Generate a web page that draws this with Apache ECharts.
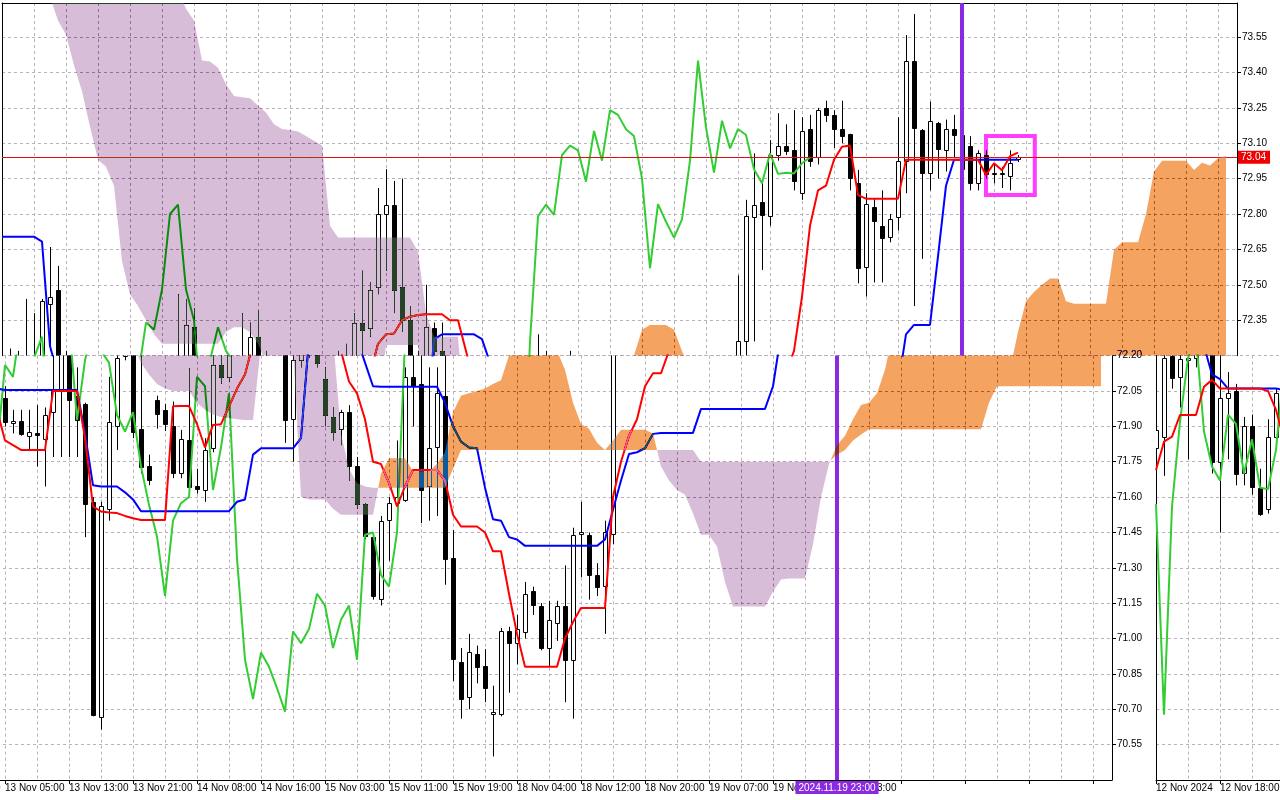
<!DOCTYPE html>
<html><head><meta charset="utf-8">
<script src="https://cdn.jsdelivr.net/npm/echarts@6/dist/echarts.min.js"></script>
<style>html,body{margin:0;padding:0;background:#fff;}#c{width:1280px;height:800px;}</style>
</head><body><div id="c"></div>
<script>
// ---- data ----
const tickLabels = ['12 Nov 2024','12 Nov 18:00','13 Nov 05:00','13 Nov 13:00','13 Nov 21:00','14 Nov 08:00','14 Nov 16:00','15 Nov 03:00','15 Nov 11:00','15 Nov 19:00','18 Nov 04:00','18 Nov 12:00','18 Nov 20:00','19 Nov 07:00','19 Nov 15:00','19 Nov 23:00'];

const candleOpen = [71.81,71.855,72.20,72.11,72.18,72.19,72.42,72.48,71.75,72.02,72.05,71.70,71.90,71.64,71.55,71.855,72.02,71.913,71.924,71.86,71.87,71.85,71.96,72.05,72.32,72.03,71.995,71.58,70.663,71.55,71.90,72.20,72.28,71.89,71.73,72.01,71.97,71.90,71.70,71.84,71.645,71.63,71.81,72.16,72.11,72.34,72.32,72.49,72.80,72.84,72.49,72.35,71.93,72.18,72.317,72.22,72.10,71.94,71.89,71.96,71.73,71.57,71.43,71.17,71.50,71.575,71.59,72.11,72.08,71.65,71.81,72.03,71.34,70.90,70.75,70.935,70.885,70.68,70.68,71.03,70.98,71.03,71.20,71.14,70.96,71.07,71.14,70.91,71.44,71.44,71.27,71.22,71.44,72.26,72.79,72.852,72.79,73.05,73.09,73.07,72.89,73.16,73.04,73.25,73.22,73.16,73.137,72.93,72.577,72.828,72.75,72.70,72.79,73.026,73.45,73.156,72.975,73.187,73.07,73.159,73.135,73.088,72.93,73.05,72.97,72.97,72.961,73.03];
const candleHigh = [71.92,72.23,72.22,72.44,72.38,72.44,72.66,72.58,72.22,72.13,72.08,71.94,71.95,71.72,71.93,72.06,72.07,71.97,71.97,71.97,71.99,71.98,72.46,72.44,72.40,72.15,72.00,71.60,71.58,72.11,72.38,72.34,72.39,72.22,71.78,72.03,71.995,72.005,71.885,72.146,71.72,71.85,72.22,72.25,72.38,72.56,72.51,72.91,72.99,72.94,72.95,72.41,72.22,72.50,72.34,72.34,72.15,71.98,71.97,71.99,71.77,71.575,71.44,71.52,71.60,71.84,72.15,72.29,72.22,72.15,72.15,72.22,71.46,70.96,71.02,70.97,70.955,70.80,71.045,71.05,71.10,71.24,71.22,71.15,71.16,71.16,71.31,71.47,71.58,71.45,71.32,71.50,72.54,72.86,73.057,72.93,73.113,73.227,73.18,73.24,73.21,73.22,73.25,73.28,73.24,73.28,73.14,72.987,72.888,72.866,72.90,72.80,73.21,73.558,73.647,73.16,73.276,73.19,73.20,73.22,73.17,73.13,73.07,73.07,73.015,73.00,73.07,73.05];
const candleLow = [71.78,71.69,72.06,71.98,71.76,72.15,72.22,71.70,71.45,71.76,71.65,71.65,71.61,71.52,71.53,71.83,71.90,71.87,71.86,71.80,71.73,71.645,71.77,71.77,71.77,71.77,71.43,70.67,70.614,71.50,71.80,72.18,71.85,71.70,71.65,71.89,71.88,71.68,71.68,71.62,71.615,71.58,71.79,72.08,72.09,72.20,72.28,72.46,72.56,72.38,72.30,71.83,71.75,72.15,72.19,72.15,71.90,71.84,71.82,71.67,71.55,71.42,71.165,71.14,71.33,71.55,71.58,71.90,71.49,71.50,71.52,71.228,70.82,70.66,70.70,70.81,70.73,70.50,70.67,70.77,70.89,71.00,71.10,70.95,70.88,70.99,70.73,70.66,71.26,71.165,71.18,71.02,71.40,72.20,72.26,72.563,72.75,73.026,73.05,72.90,72.86,73.00,73.01,73.19,73.08,73.10,72.90,72.506,72.45,72.51,72.51,72.68,72.73,72.888,72.41,72.61,72.90,72.95,72.98,73.04,72.96,72.90,72.90,72.95,72.93,72.91,72.90,73.02];
const candleClose = [71.885,72.19,72.105,72.185,72.19,72.43,72.45,71.75,72.02,72.04,71.70,71.90,71.64,71.53,71.855,72.04,71.92,71.923,71.868,71.877,71.86,71.95,72.05,72.33,72.01,71.93,71.57,70.677,71.56,71.92,72.19,72.28,71.878,71.73,71.67,71.95,71.91,71.70,71.845,71.64,71.633,71.80,72.16,72.11,72.34,72.31,72.48,72.80,72.84,72.48,72.35,71.927,72.18,72.32,72.22,72.17,71.948,71.878,71.96,71.73,71.567,71.433,71.181,71.50,71.574,71.60,72.11,72.07,71.63,71.81,72.04,71.34,70.91,70.743,70.941,70.88,70.79,70.69,71.03,70.98,71.04,71.19,71.14,70.96,71.08,71.14,70.91,71.44,71.45,71.27,71.22,71.45,72.26,72.79,72.84,72.796,73.05,73.09,73.07,72.937,73.152,73.026,73.24,73.22,73.159,73.13,72.95,72.57,72.842,72.767,72.70,72.777,73.026,73.45,73.167,72.975,73.195,73.078,73.16,73.135,72.99,72.93,73.057,72.97,72.975,72.972,73.015,73.04];

const tenkan = [71.715,71.835,71.856,71.948,71.948,71.948,72.068,72.097,72.06,72.06,72.06,72.06,72.06,72.06,72.05,71.97,71.84,71.82,71.80,71.80,71.80,71.80,72.05,72.05,72.05,72.05,71.85,71.56,71.539,71.535,71.532,71.52,71.51,71.503,71.503,71.503,71.503,71.985,71.986,71.986,71.91,71.81,71.906,71.909,71.984,72.06,72.12,72.25,72.29,72.294,72.35,72.365,72.372,72.375,72.375,72.375,72.35,72.35,72.22,72.09,72.04,71.93,71.75,71.74,71.66,71.56,71.645,71.715,71.715,71.715,71.715,71.67,71.525,71.475,71.475,71.475,71.45,71.37,71.37,71.19,71.02,70.88,70.88,70.88,70.88,70.88,71.00,71.07,71.13,71.13,71.13,71.13,71.60,71.75,71.86,71.93,72.07,72.125,72.125,72.22,72.45,72.75,72.90,72.92,73.03,73.085,73.09,72.88,72.865,72.865,72.865,72.865,72.865,73.03,73.03,73.03,73.03,73.03,73.03,73.03,73.03,73.03,73.03,72.965,73.015,72.985,73.045,73.06];
const kijun = [72.704,72.704,72.704,72.704,72.704,72.683,72.24,72.12,72.10,72.06,72.06,72.06,72.06,72.06,72.06,72.06,72.054,72.054,72.054,72.054,72.054,72.054,72.054,72.054,72.054,72.054,71.87,71.65,71.645,71.645,71.645,71.62,71.59,71.54,71.54,71.54,71.54,71.54,71.54,71.54,71.54,71.54,71.54,71.54,71.54,71.58,71.59,71.78,71.807,71.807,71.807,71.807,71.807,71.85,72.27,72.29,72.29,72.29,72.29,72.29,72.27,72.17,72.07,72.068,72.068,72.068,72.068,72.068,72.068,72.068,72.068,72.00,71.90,71.835,71.81,71.807,71.64,71.506,71.50,71.43,71.42,71.393,71.393,71.393,71.393,71.393,71.393,71.393,71.393,71.393,71.393,71.42,71.546,71.67,71.783,71.79,71.807,71.868,71.872,71.872,71.872,71.872,71.872,71.974,71.974,71.974,71.974,71.974,71.974,71.974,71.974,71.974,72.07,72.29,72.33,72.33,72.33,72.62,72.92,73.03,73.03,73.03,73.03,73.03,73.03,73.03,73.03,73.03];
const senkouA = [74.2,74.1,74.0,73.95,73.9,73.82,73.72,73.62,73.56,73.43,73.32,73.17,73.03,73.0,72.92,72.60,72.46,72.41,72.35,72.29,72.25,72.25,72.25,72.25,72.25,72.25,72.25,72.25,72.30,72.32,72.32,72.30,72.25,72.17,72.12,72.08,72.06,72.05,72.05,72.05,72.00,71.97,71.95,71.94,71.935,71.93,71.927,71.927,72.245,72.245,72.245,72.245,72.245,71.60,71.59,71.59,71.59,71.55,71.525,71.525,71.525,71.525,71.525,71.70,71.765,71.765,71.765,71.71,71.71,71.71,71.74,71.79,71.96,72.03,72.04,72.05,72.06,72.08,72.095,72.20,72.31,72.33,72.33,72.33,72.31,72.22,72.14,72.00,71.91,71.89,71.83,71.80,71.84,71.885,71.885,71.885,71.885,71.87,71.73,71.67,71.63,71.61,71.53,71.44,71.44,71.39,71.24,71.136,71.136,71.136,71.136,71.136,71.20,71.25,71.255,71.255,71.255,71.40,71.60,71.74,71.82,71.86,71.93,71.99,72.00,72.04,72.14,72.30,72.43,72.47,72.50,72.527,72.527,72.43,72.42,72.42,72.42,72.42,72.42,72.648,72.68,72.68,72.68,72.80,72.98,73.026,73.026,73.026,73.026,72.986,73.017,73.005,73.036,73.046];
const senkouB = [74.4,74.4,74.4,74.4,74.4,74.4,74.4,74.4,74.4,74.4,74.4,74.4,74.4,74.4,74.4,74.4,74.4,74.4,74.4,74.4,74.4,74.4,73.75,73.67,73.62,73.45,73.446,73.42,73.35,73.30,73.295,73.29,73.26,73.23,73.18,73.16,73.156,73.15,73.13,73.11,73.09,72.75,72.70,72.70,72.70,72.70,72.70,72.70,72.70,72.70,72.70,72.70,72.64,72.38,72.28,72.28,72.28,72.28,71.87,71.72,71.66,71.645,71.64,71.64,71.64,71.64,71.64,71.64,71.64,71.64,71.64,71.64,71.72,71.80,71.80,71.80,71.80,71.80,71.80,71.80,71.80,71.80,71.80,71.80,71.80,71.80,71.80,71.80,71.80,71.80,71.80,71.80,71.80,71.80,71.80,71.80,71.80,71.80,71.80,71.80,71.80,71.80,71.80,71.75,71.75,71.75,71.75,71.75,71.75,71.75,71.75,71.75,71.75,71.75,71.75,71.75,71.75,71.75,71.75,71.75,71.78,71.80,71.84,71.865,71.888,71.888,71.888,71.888,71.888,71.888,71.888,71.888,71.888,71.888,71.888,71.888,71.888,71.888,71.888,72.00,72.07,72.07,72.07,72.07,72.07,72.07,72.07,72.07,72.07,72.07,72.07,72.07,72.07,72.07];

const CHIKOU_SHIFT = 26;
const LAST_PRICE = 73.04;
const MARKER_BAR = 120;
const MARKER_LABEL = '2024.11.19 23:00';
const BOX = {x0: 123.0, x1: 129.1, yLow: 72.88, yHigh: 73.13};

// ---- styling ----
const FONT = 'Liberation Sans';
const ORANGE = '#f4a460', LAVENDER = '#d8bdd9';
// inverse colours: painted in "difference" mode they give ORANGE / LAVENDER on white (terminal-like XOR fill)
const ORANGE_INV = '#0b5b9f', LAVENDER_INV = '#274226';
const GRIDC = '#bdb0bd';
const X_MAX = 154.375;

const candleData = candleOpen.map((o, i) => [i, o, candleClose[i], candleLow[i], candleHigh[i]]);
const tenkanData = tenkan.map((v, i) => [i, v]);
const kijunData = kijun.map((v, i) => [i, v]);
const chikouData = [];
for (let i = 0; i + CHIKOU_SHIFT < candleClose.length; i++) chikouData.push([i, candleClose[i + CHIKOU_SHIFT]]);

// contiguous runs of the cloud with the same colour (split at the A/B crossings)
function buildCloudRuns() {
  const runs = [];
  let cur = null;
  for (let i = 0; i < senkouA.length; i++) {
    const a = senkouA[i], b = senkouB[i], d = a - b;
    if (i > 0) {
      const pa = senkouA[i - 1], pb = senkouB[i - 1], pd = pa - pb;
      if (pd * d < 0) {
        const t = pd / (pd - d);
        const ym = pa + t * (a - pa);
        cur.nodes.push([i - 1 + t, ym, ym]);
        cur = {up: d > 0, nodes: [[i - 1 + t, ym, ym]]};
        runs.push(cur);
      }
    }
    if (!cur) { cur = {up: d > 0, nodes: []}; runs.push(cur); }
    cur.nodes.push([i, a, b]);
  }
  return runs;
}
const cloudRuns = buildCloudRuns();

function renderCloud(params, api) {
  const children = cloudRuns.map(r => {
    const top = r.nodes.map(n => api.coord([n[0], n[1]]));
    const bot = r.nodes.slice().reverse().map(n => api.coord([n[0], n[2]]));
    return {type: 'polygon', name: r.up ? 'cloud-up' : 'cloud-down', shape: {points: top.concat(bot)},
      style: {fill: r.up ? ORANGE : LAVENDER}};
  });
  return {type: 'group', children};
}

function renderCandle(params, api) {
  const i = api.value(0), o = api.value(1), c = api.value(2), l = api.value(3), h = api.value(4);
  const pO = api.coord([i, o]), pC = api.coord([i, c]), pL = api.coord([i, l]), pH = api.coord([i, h]);
  const x = Math.round(pO[0]) + 0.5;
  const top = Math.min(pO[1], pC[1]), bot = Math.max(pO[1], pC[1]);
  const up = c >= o;
  return {type: 'group', children: [
    {type: 'line', shape: {x1: x, y1: pH[1], x2: x, y2: pL[1]}, style: {stroke: '#000', lineWidth: 1}},
    {type: 'rect', shape: {x: x - 2, y: Math.round(top) + 0.5, width: 4, height: Math.max(Math.round(bot - top), 1)},
      style: {fill: up ? '#ffffff' : '#000000', stroke: '#000', lineWidth: 1}}
  ]};
}

const GRID_LINE = {show: true, lineStyle: {color: GRIDC, type: [3, 3], width: 1}};
const fmtX = v => { const k = v / 8; return (Number.isInteger(k) && k < tickLabels.length) ? tickLabels[k] : ''; };

function xAxisFor(gridIndex, showLabels, position) {
  return {type: 'value', gridIndex, position, min: 0, max: X_MAX, interval: 8,
    axisLine: {show: true, onZero: false, lineStyle: {color: '#000', width: 1}},
    axisTick: {show: showLabels, length: 4, lineStyle: {color: '#000'}},
    axisLabel: {show: showLabels, formatter: fmtX, align: 'left', margin: 3, color: '#000',
      fontFamily: FONT, fontSize: 10, showMinLabel: true, showMaxLabel: false},
    splitLine: GRID_LINE,
    minorTick: {show: false, splitNumber: 2},
    minorSplitLine: GRID_LINE};
}
function yAxisFor(gridIndex, min, max, position, showLabels, showSplit, showMax) {
  return {type: 'value', gridIndex, position, min, max, interval: 0.15,
    axisLine: {show: true, onZero: false, lineStyle: {color: '#000', width: 1}},
    axisTick: {show: showLabels, length: 4, lineStyle: {color: '#000'}},
    axisLabel: {show: showLabels, formatter: v => v.toFixed(2), margin: 5, color: '#000',
      fontFamily: FONT, fontSize: 10, showMinLabel: false, showMaxLabel: !!showMax},
    splitLine: showSplit ? GRID_LINE : {show: false}};
}

const TOP_MIN = 72.20, TOP_MAX = 73.694;
const BOT_MIN = 70.40, BOT_MAX = 72.20;

function seriesFor(xi, yi, marks) {
  const list = [
    {type: 'custom', xAxisIndex: xi, yAxisIndex: yi, data: candleData, renderItem: renderCandle,
      encode: {x: 0, y: [1, 2, 3, 4]}, clip: true, z: 3, silent: true},
    {type: 'line', xAxisIndex: xi, yAxisIndex: yi, data: chikouData, showSymbol: false, z: 4, silent: true,
      lineStyle: {color: '#32cd32', width: 2}},
    {type: 'line', xAxisIndex: xi, yAxisIndex: yi, data: kijunData, showSymbol: false, z: 4, silent: true,
      lineStyle: {color: '#0000ff', width: 2}},
    {type: 'line', xAxisIndex: xi, yAxisIndex: yi, data: tenkanData, showSymbol: false, z: 4, silent: true,
      lineStyle: {color: '#ff0000', width: 2}},
    {type: 'custom', xAxisIndex: xi, yAxisIndex: yi, data: [[0, 72]], renderItem: renderCloud,
      encode: {x: 0, y: 1}, clip: true, z: 5, silent: true}
  ];
  if (marks) {
    const carrier = {type: 'line', xAxisIndex: xi, yAxisIndex: yi, data: tenkanData, showSymbol: false, z: 6, silent: true,
      lineStyle: {opacity: 0}};
    if (marks === 'top') {
      carrier.markLine = {silent: true, symbol: ['none', 'none'], animation: false, data: [
        {yAxis: LAST_PRICE, lineStyle: {color: '#dd1010', width: 1, type: 'solid'},
          label: {show: true, position: 'end', formatter: LAST_PRICE.toFixed(2), color: '#fff', backgroundColor: '#f00000',
            padding: [2, 4, 1, 3], fontFamily: FONT, fontSize: 10, distance: 1}},
        {xAxis: MARKER_BAR, lineStyle: {color: '#8a2be2', width: 4, type: 'solid'}, label: {show: false}}
      ]};
      carrier.markArea = {silent: true, label: {show: false},
        itemStyle: {color: 'rgba(0,0,0,0)', borderColor: '#ff3cff', borderWidth: 4},
        data: [[{xAxis: BOX.x0, yAxis: BOX.yHigh}, {xAxis: BOX.x1, yAxis: BOX.yLow}]]};
    } else {
      carrier.markLine = {silent: true, symbol: ['none', 'none'], animation: false, data: [
        {xAxis: MARKER_BAR, lineStyle: {color: '#8a2be2', width: 4, type: 'solid'},
          label: {show: true, position: 'start', formatter: MARKER_LABEL, color: '#fff', backgroundColor: '#8a2be2',
            padding: [2, 3, 1, 3], fontFamily: FONT, fontSize: 10, distance: 1}}
      ]};
    }
    list.push(carrier);
  }
  return list;
}

const chart = echarts.init(document.getElementById('c'), null, {renderer: 'canvas'});
chart.setOption({
  backgroundColor: '#ffffff',
  animation: false,
  grid: [
    {left: 2, top: 3, width: 1235, height: 352.6, outerBoundsMode: 'none', containLabel: false},
    {left: -123, top: 355.6, width: 1235, height: 424.4, outerBoundsMode: 'none', containLabel: false},
    {left: 1156, top: 355.6, width: 1235, height: 424.4, outerBoundsMode: 'none', containLabel: false}
  ],
  xAxis: [xAxisFor(0, false, 'top'), xAxisFor(1, true, 'bottom'), xAxisFor(2, true, 'bottom')],
  yAxis: [
    yAxisFor(0, TOP_MIN, TOP_MAX, 'right', true, true, false),
    yAxisFor(0, TOP_MIN, TOP_MAX, 'left', false, false, false),
    yAxisFor(1, BOT_MIN, BOT_MAX, 'right', true, true, true),
    yAxisFor(2, BOT_MIN, BOT_MAX, 'left', false, true, false)
  ],
  series: [].concat(seriesFor(0, 0, 'top'), seriesFor(1, 2, 'bottom'), seriesFor(2, 3, null))
});

// terminal-like XOR look of the cloud: repaint the cloud polygons in "difference" mode
try {
  const zr = chart.getZr();
  let changed = false;
  zr.storage.getDisplayList(true).forEach(el => {
    if (el.name === 'cloud-up' || el.name === 'cloud-down') {
      el.setStyle({fill: el.name === 'cloud-up' ? ORANGE_INV : LAVENDER_INV, blend: 'difference'});
      changed = true;
    }
  });
  if (changed) zr.refreshImmediately();
} catch (e) { /* keep the plain colours */ }
</script></body></html>
